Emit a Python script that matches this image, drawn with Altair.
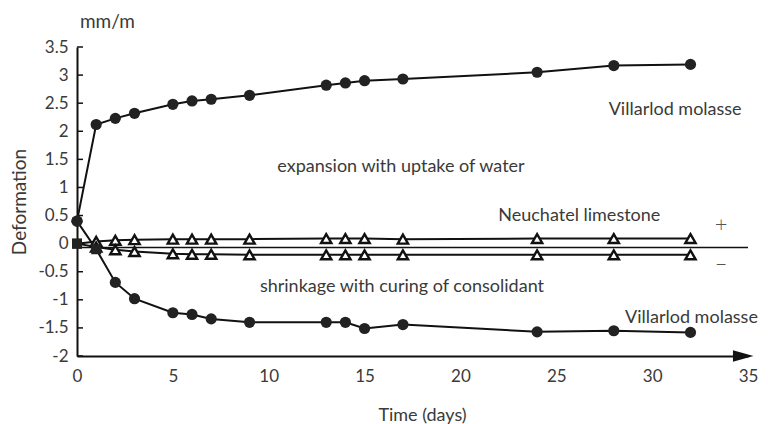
import altair as alt
import pandas as pd

# ---- data ----
days = [0, 1, 2, 3, 5, 6, 7, 9, 13, 14, 15, 17, 24, 28, 32]
molasse_expansion = [0.40, 2.12, 2.23, 2.32, 2.48, 2.54, 2.57, 2.64, 2.82, 2.86, 2.90, 2.93, 3.05, 3.17, 3.19]
molasse_shrinkage = [0.40, -0.10, -0.69, -0.98, -1.23, -1.26, -1.34, -1.40, -1.40, -1.40, -1.51, -1.44, -1.57, -1.55, -1.58]
limestone_upper = [0.00, 0.04, 0.06, 0.07, 0.08, 0.08, 0.08, 0.08, 0.09, 0.09, 0.09, 0.08, 0.09, 0.09, 0.09]
limestone_lower = [0.00, -0.06, -0.11, -0.14, -0.18, -0.19, -0.19, -0.20, -0.20, -0.20, -0.20, -0.20, -0.20, -0.20, -0.20]

markers_expansion = ["circle"] * 15
markers_shrinkage = ["circle", "square"] + ["circle"] * 13
markers_lime = ["square"] + ["triangle"] * 14

zero_level = -0.07
y_ticks = [-2, -1.5, -1, -0.5, 0, 0.5, 1, 1.5, 2, 2.5, 3, 3.5]
x_ticks = [0, 5, 10, 15, 20, 25, 30, 35]

labels_text = ["mm/m", "Villarlod molasse", "expansion with uptake of water",
               "Neuchatel limestone",
               "shrinkage with curing of consolidant", "Villarlod molasse"]
labels_x = [0.15, 31.2, 16.9, 26.2, 16.95, 32.05]
labels_y = [3.94, 2.38, 1.36, 0.49, -0.77, -1.33]
labels_align = ["left", "center", "center", "center", "center", "center"]

signs_text = ["+", "\u2013"]
signs_x = [33.6, 33.6]
signs_y = [0.33, -0.36]

# ---- tables ----
rows = []
for name, vals, marks in [
    ("expansion", molasse_expansion, markers_expansion),
    ("shrinkage", molasse_shrinkage, markers_shrinkage),
    ("lime_up", limestone_upper, markers_lime),
    ("lime_low", limestone_lower, markers_lime),
]:
    for d, v, m in zip(days, vals, marks):
        rows.append({"series": name, "day": d, "value": v, "marker": m})
df = pd.DataFrame(rows)
ticks_df = pd.DataFrame({"v": y_ticks})
ann = pd.DataFrame({"text": labels_text, "x": labels_x, "y": labels_y, "align": labels_align})
signs = pd.DataFrame({"text": signs_text, "x": signs_x, "y": signs_y})

FONT = "Lato"
TXT = "#3a3a3a"

xscale = alt.Scale(domain=[0, 35], nice=False)
yscale = alt.Scale(domain=[-2, 3.5], nice=False)

AX = alt.Axis(title="Time (days)", values=x_ticks, ticks=False, grid=False,
              labelFlush=False, labelOverlap=False,
              domainColor="#111", domainWidth=2, labelFontSize=17,
              labelFont=FONT, labelColor=TXT, labelPadding=12,
              titleFont=FONT, titleFontSize=18, titleFontWeight="normal",
              titleColor=TXT, titlePadding=22, titleX=345)
AY = alt.Axis(title="Deformation", values=y_ticks, ticks=False, grid=False,
              format=".1~f", labelFlush=False, labelOverlap=False,
              labelExpr="replace(datum.label, '\u2212', '-')",
              domainColor="#111", domainWidth=2, labelFontSize=17,
              labelFont=FONT, labelColor=TXT, labelPadding=9,
              titleFont=FONT, titleFontSize=19, titleFontWeight="normal",
              titleColor=TXT, titlePadding=8)


def X(field):
    return alt.X(field, scale=xscale, axis=AX)


def Y(field):
    return alt.Y(field, scale=yscale, axis=AY)


base = alt.Chart(df)

zero_rule = alt.Chart(pd.DataFrame({"a": [0]})).mark_rule(color="#111", strokeWidth=1.6).encode(
    x=alt.datum(0, scale=xscale, axis=AX), x2=alt.datum(35),
    y=alt.datum(zero_level, scale=yscale, axis=AY))

lines = base.mark_line(color="#111", strokeWidth=2).encode(
    x=X("day:Q"), y=Y("value:Q"), detail="series:N")

circles = base.transform_filter(alt.datum.marker == "circle").mark_point(
    shape="circle", filled=True, color="#222", size=125, opacity=1).encode(
    x=X("day:Q"), y=Y("value:Q"))

squares = base.transform_filter(alt.datum.marker == "square").mark_point(
    shape="square", filled=True, color="#222", size=100, opacity=1).encode(
    x=X("day:Q"), y=Y("value:Q"))

triangles = base.transform_filter(alt.datum.marker == "triangle").mark_point(
    shape="triangle-up", fill="white", stroke="#111", strokeWidth=2.4, size=105, opacity=1,
    fillOpacity=1).encode(
    x=X("day:Q"), y=Y("value:Q"))

yticks = alt.Chart(ticks_df).mark_rule(color="#111", strokeWidth=1.5).encode(
    x=alt.value(0), x2=alt.value(6), y=Y("v:Q"))

arrow = alt.Chart(pd.DataFrame({"a": [0]})).mark_point(
    shape="M-1,-0.55L1,0L-1,0.55Z", filled=True, color="#111", size=420, opacity=1).encode(
    x=alt.datum(34.75, scale=xscale, axis=AX), y=alt.datum(-2, scale=yscale, axis=AY))

texts_center = alt.Chart(ann).transform_filter(alt.datum.align == "center").mark_text(
    font=FONT, fontSize=18, color=TXT, align="center", baseline="middle").encode(
    x=X("x:Q"), y=Y("y:Q"), text="text:N")
texts_left = alt.Chart(ann).transform_filter(alt.datum.align == "left").mark_text(
    font=FONT, fontSize=19, color=TXT, align="left", baseline="middle").encode(
    x=X("x:Q"), y=Y("y:Q"), text="text:N")
texts_signs = alt.Chart(signs).mark_text(
    font=FONT, fontSize=22, fontWeight=300, color="#555", align="center", baseline="middle").encode(
    x=X("x:Q"), y=Y("y:Q"), text="text:N")

chart = alt.layer(
    lines, zero_rule, yticks, triangles, squares, circles, arrow,
    texts_center, texts_left, texts_signs
).properties(
    width=671, height=309,
    autosize=alt.AutoSizeParams(type="none"),
    padding={"left": 69, "top": 39, "right": 12, "bottom": 68},
    background="white",
).configure_view(stroke=None)

chart.save("out.html", embed_options={"renderer": "svg", "actions": False})
